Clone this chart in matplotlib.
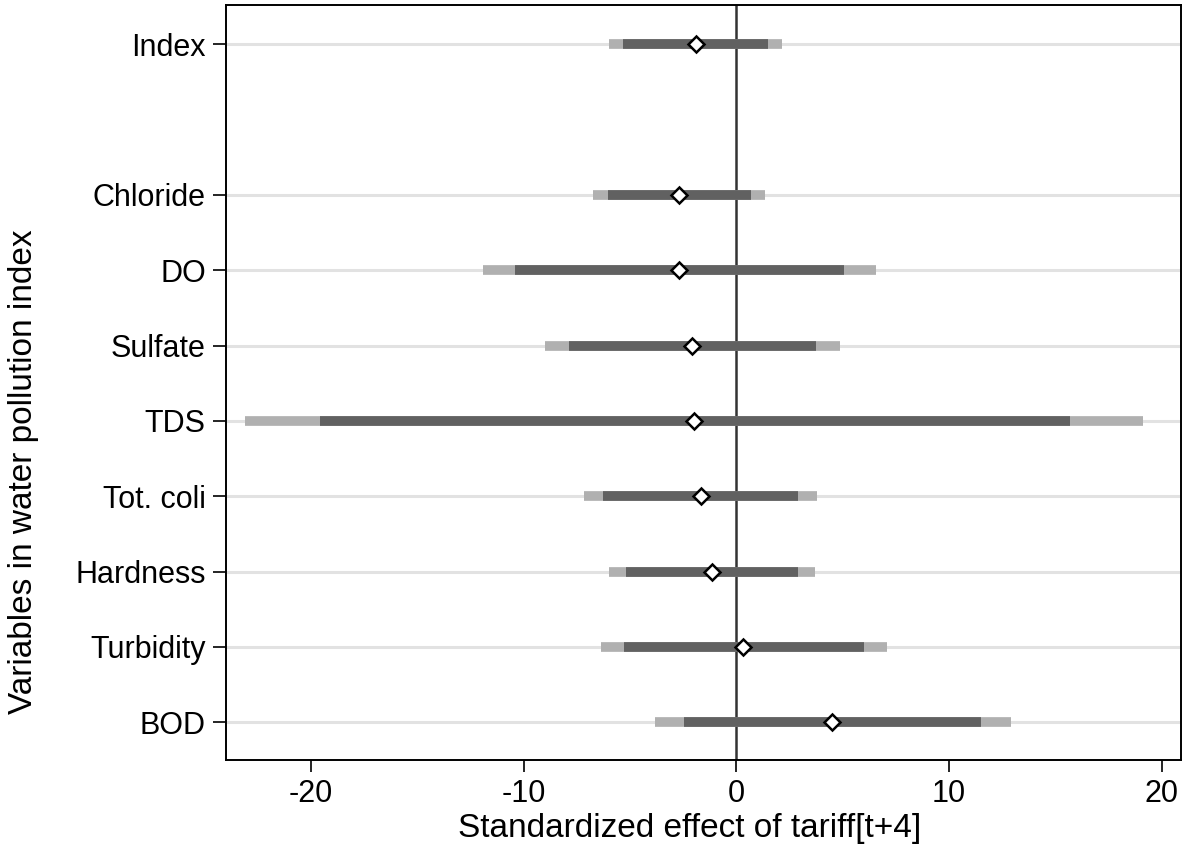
import matplotlib
matplotlib.use("Agg")
import matplotlib.pyplot as plt

plt.rcParams['font.family'] = ['Liberation Sans', 'DejaVu Sans']

categories = ["Index", "Chloride", "DO", "Sulfate", "TDS", "Tot. coli", "Hardness", "Turbidity", "BOD"]
positions = [10, 8, 7, 6, 5, 4, 3, 2, 1]
point = [-1.92, -2.68, -2.68, -2.07, -2.0, -1.69, -1.17, 0.33, 4.5]
ci90_lo = [-5.35, -6.06, -10.42, -7.89, -19.6, -6.29, -5.2, -5.27, -2.49]
ci90_hi = [1.5, 0.7, 5.07, 3.76, 15.68, 2.9, 2.9, 6.0, 11.5]
ci95_lo = [-6.0, -6.76, -11.92, -9.01, -23.1, -7.18, -5.97, -6.38, -3.85]
ci95_hi = [2.16, 1.36, 6.57, 4.88, 19.1, 3.8, 3.67, 7.09, 12.9]

fig = plt.figure(figsize=(11.88, 8.46), dpi=100)
ax = fig.add_axes([226/1188, 1 - 760/846, (1181-226)/1188, (760-5)/846])

for y in positions:
    ax.axhline(y, color='#e2e2e2', lw=2.2, zorder=0)
ax.axvline(0, color='#333333', lw=1.8, zorder=1)

ax.hlines(positions, ci95_lo, ci95_hi, color='#b0b0b0', lw=7.0, zorder=2)
ax.hlines(positions, ci90_lo, ci90_hi, color='#616161', lw=7.0, zorder=3)
ax.plot(point, positions, linestyle='none', marker='D', markersize=8,
        markerfacecolor='white', markeredgecolor='black', markeredgewidth=1.8, zorder=4)

ax.set_xlim(-24, 20.9)
ax.set_ylim(0.5, 10.52)
ax.set_xticks([-20, -10, 0, 10, 20])
ax.set_xticklabels(['-20', '-10', '0', '10', '20'])
ax.set_yticks(positions)
ax.set_yticklabels(categories)
ax.tick_params(axis='both', labelsize=22, width=1.2, colors='black')
ax.tick_params(axis='x', length=8.5, pad=5)
ax.tick_params(axis='y', length=9.5, pad=5)
for s in ax.spines.values():
    s.set_linewidth(1.4)
    s.set_color('black')

ax.set_xlabel('Standardized effect of tariff[t+4]', fontsize=24)
ax.set_ylabel('Variables in water pollution index', fontsize=24)
ax.xaxis.set_label_coords((690-226)/955, (760-828)/755)
ax.yaxis.set_label_coords((24-226)/955, (760-472)/755)
ax.xaxis.label.set_va('center')
ax.yaxis.label.set_va('center')

fig.savefig('out.png', dpi=100)
